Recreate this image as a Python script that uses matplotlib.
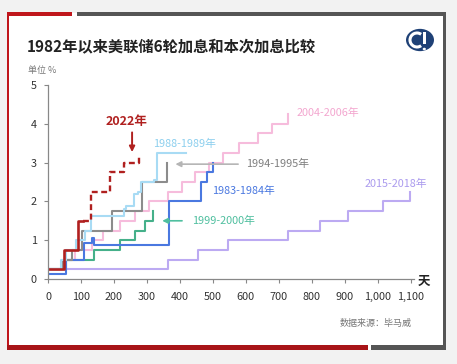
import matplotlib.pyplot as plt
from matplotlib.patches import Rectangle, Circle, Arc
from matplotlib.ticker import FuncFormatter

plt.rcParams['font.family'] = ['Noto Sans CJK SC', 'DejaVu Sans']

# cumulative hikes (%) vs. days since first hike
days_2022_solid = [0, 49, 91, 105]
vals_2022_solid = [0.25, 0.75, 1.5, 1.5]
days_2022_dash = [105, 130, 189, 232, 275]
vals_2022_dash = [1.5, 2.25, 2.75, 3.0, 3.15]

days_1983 = [0, 56, 110, 132, 140, 367, 465, 481, 499]
vals_1983 = [0.12, 0.5, 0.94, 1.05, 0.88, 2.0, 2.5, 2.75, 3.0]

days_1988 = [0, 40, 56, 84, 111, 131, 232, 237, 260, 274, 281, 321, 330, 331, 418]
vals_1988 = [0.25, 0.5, 0.75, 1.0, 1.25, 1.625, 1.8125, 1.875, 2.1875, 2.25, 2.5, 2.5625, 3.0, 3.25, 3.25]

days_1994 = [0, 46, 73, 102, 193, 284, 362]
vals_1994 = [0.25, 0.5, 0.75, 1.25, 1.75, 2.5, 3.0]

days_1999 = [0, 55, 139, 217, 265, 294, 318]
vals_1999 = [0.25, 0.5, 0.75, 1.0, 1.25, 1.5, 1.75]

days_2004 = [0, 41, 83, 133, 167, 217, 265, 307, 365, 405, 447, 489, 531, 580, 636, 679, 729]
vals_2004 = [0.25, 0.5, 0.75, 1.0, 1.25, 1.5, 1.75, 2.0, 2.25, 2.5, 2.75, 3.0, 3.25, 3.5, 3.75, 4.0, 4.25]

days_2015 = [0, 364, 455, 547, 728, 826, 910, 1015, 1099]
vals_2015 = [0.25, 0.5, 0.75, 1.0, 1.25, 1.5, 1.75, 2.0, 2.25]

x_ticks = [0, 100, 200, 300, 400, 500, 600, 700, 800, 900, 1000, 1100]
y_ticks = [0, 1, 2, 3, 4, 5]

W, H = 457, 364
fig = plt.figure(figsize=(W / 100, H / 100), dpi=100)
fig.patch.set_facecolor('#f2f2f2')


def px_rect(x0, y0, x1, y1, color):
    fig.add_artist(Rectangle((x0 / W, 1 - y1 / H), (x1 - x0) / W, (y1 - y0) / H,
                             transform=fig.transFigure, facecolor=color,
                             edgecolor='none', zorder=0))


# card frame
px_rect(7, 13, 446, 350, 'white')
px_rect(7, 12, 72, 16, '#c0161c')
px_rect(77, 12, 446, 16, '#555555')
px_rect(7, 12, 9, 350, '#c0161c')
px_rect(443, 12, 446, 350, '#555555')
px_rect(7, 345, 368, 350, '#a81418')
px_rect(371, 345, 446, 350, '#555555')

# logo
fig.add_artist(Circle((420 / W, 1 - 40 / H), 14 / W, transform=fig.transFigure,
                      facecolor='#1f4176', edgecolor='none'))
fig.add_artist(Arc((417 / W, 1 - 40 / H), 14 / W, 14 / H, theta1=60, theta2=300,
                   transform=fig.transFigure, color='white', lw=2.2))
fig.add_artist(Rectangle((423 / W, 1 - 44 / H), 2.5 / W, 12 / H, transform=fig.transFigure,
                         facecolor='white', edgecolor='none'))
fig.add_artist(Circle((424.3 / W, 1 - 49 / H), 1.6 / W, transform=fig.transFigure,
                      facecolor='white', edgecolor='none'))

fig.text(27 / W, 1 - 46 / H, '1982年以来美联储6轮加息和本次加息比较', fontsize=11,
         fontweight='bold', color='#222222', va='center', ha='left')
fig.text(28 / W, 1 - 71 / H, '单位 %', fontsize=6.5, color='#777777', va='center')
fig.text(412 / W, 1 - 323 / H, '数据来源：毕马威', fontsize=6.5, color='#777777',
         va='center', ha='right')
fig.text(418 / W, 1 - 281 / H, '天', fontsize=9, fontweight='bold', color='#222222',
         va='center', ha='left')

ax = fig.add_axes([48 / W, 1 - 279 / H, 366 / W, 194 / H])
ax.set_facecolor('none')
ax.set_xlim(0, 1110)
ax.set_ylim(0, 5)

lw = 1.5
ax.step(days_2015, vals_2015, where='post', color='#bcaaf2', lw=lw)
ax.step(days_2004, vals_2004, where='post', color='#f6bcdc', lw=lw)
ax.step(days_1999, vals_1999, where='post', color='#45b08a', lw=lw)
ax.step(days_1983, vals_1983, where='post', color='#4a78e0', lw=lw)
ax.step(days_1994, vals_1994, where='post', color='#8c8c8c', lw=lw)
ax.step(days_1988, vals_1988, where='post', color='#a8dbf4', lw=lw)
ax.step(days_2022_solid, vals_2022_solid, where='post', color='#b0201f', lw=1.9)
ax.step(days_2022_dash, vals_2022_dash, where='post', color='#b0201f', lw=1.7,
        linestyle=(0, (2.5, 1.5)))

# labels and arrows
ax.text(239, 4.05, '2022年', color='#b0201f', fontsize=9, fontweight='bold',
        ha='center', va='center')
ax.annotate('', xy=(255, 3.2), xytext=(255, 3.85),
            arrowprops=dict(arrowstyle='-|>', color='#b0201f', lw=1.4, mutation_scale=8))
ax.text(318, 3.48, '1988-1989年', color='#8ccfee', fontsize=7.8, va='center')
ax.text(602, 2.96, '1994-1995年', color='#7f7f7f', fontsize=7.8, va='center')
ax.annotate('', xy=(378, 2.96), xytext=(585, 2.96),
            arrowprops=dict(arrowstyle='-|>', color='#b5b5b5', lw=1.2, mutation_scale=8))
ax.text(497, 2.27, '1983-1984年', color='#4a78e0', fontsize=7.8, va='center')
ax.text(436, 1.5, '1999-2000年', color='#4fbf9f', fontsize=7.8, va='center')
ax.annotate('', xy=(338, 1.5), xytext=(415, 1.5),
            arrowprops=dict(arrowstyle='-|>', color='#4fbf9f', lw=1.2, mutation_scale=8))
ax.text(755, 4.27, '2004-2006年', color='#f3a6cf', fontsize=7.8, va='center')
ax.text(1055, 2.45, '2015-2018年', color='#ab9bee', fontsize=7.8, va='center',
        ha='center', clip_on=False)

ax.set_xticks(x_ticks)
ax.set_yticks(y_ticks)
ax.xaxis.set_major_formatter(FuncFormatter(lambda v, p: f'{int(v):,}'))
ax.tick_params(axis='both', colors='#888888', labelcolor='#333333', labelsize=7.8,
               length=3, width=0.8)
ax.tick_params(axis='x', pad=6)
ax.tick_params(axis='y', pad=5)
for s in ['top', 'right']:
    ax.spines[s].set_visible(False)
for s in ['left', 'bottom']:
    ax.spines[s].set_color('#888888')
    ax.spines[s].set_linewidth(0.9)

fig.savefig('out.png', dpi=100, facecolor=fig.get_facecolor())
